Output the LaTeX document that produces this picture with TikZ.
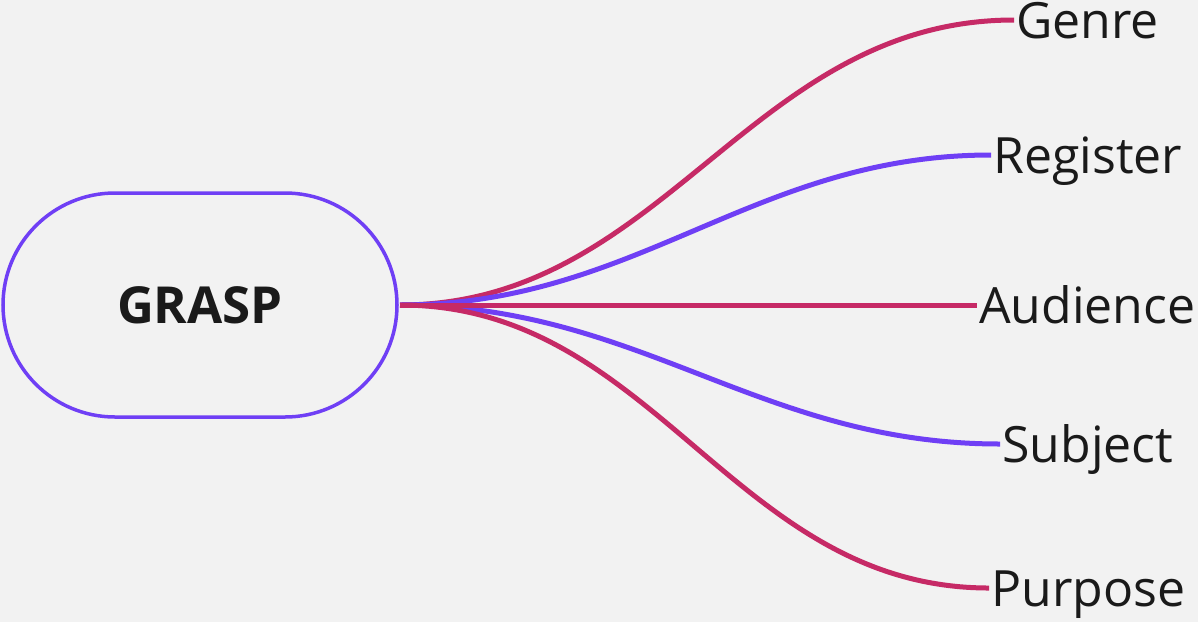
\documentclass[tikz,border=0pt]{standalone}
\usepackage{fontspec}
\setmainfont{Open Sans}
\usetikzlibrary{positioning}
\definecolor{Violet}{HTML}{6F3FF5}
\definecolor{Berry}{HTML}{C62A66}
\definecolor{Paper}{HTML}{F2F2F2}
\definecolor{Ink}{HTML}{1A1A1A}
\begin{document}
\begin{tikzpicture}[x=1pt, y=-1pt,
  hub/.style={draw=Violet, line width=3.5pt, fill=Paper, rectangle,
     rounded corners=112pt, minimum width=394pt, minimum height=224pt,
     font=\fontsize{51}{60}\selectfont\bfseries, text=Ink},
  leaf/.style={anchor=west, inner sep=2pt, text height=37pt, text depth=0pt,
     font=\fontsize{50}{60}\selectfont, text=Ink},
  branch/.style={line width=5pt, out=0, in=180}]
  \fill[Paper] (0,0) rectangle (1198,622);
  \useasboundingbox (0,0) rectangle (1198,622);
  \node[hub] (grasp) at (200,305) {GRASP};
  \coordinate (root) at (400,305);
  \node[leaf] (genre)    at (1014,20)  {Genre};
  \node[leaf] (register) at (991,155)  {Register};
  \node[leaf] (audience) at (977,305)  {Audience};
  \node[leaf] (subject)  at (1000,444) {Subject};
  \node[leaf] (purpose)  at (989,588)  {Purpose};
  \draw[branch, Berry]  (root) to (genre.west);
  \draw[branch, Violet] (root) to (register.west);
  \draw[branch, Violet] (root) to (subject.west);
  \draw[branch, Berry]  (root) to (purpose.west);
  \draw[branch, Berry]  (root) to (audience.west);
\end{tikzpicture}
\end{document}
